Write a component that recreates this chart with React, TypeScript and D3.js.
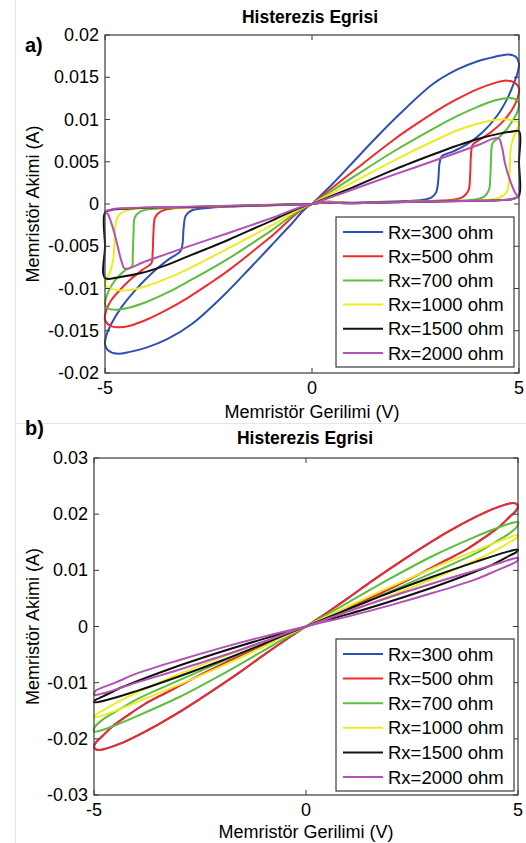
import React from 'react';
import * as d3 from 'd3';

type Pt = [number, number];

const seriesNames = ['Rx=300 ohm', 'Rx=500 ohm', 'Rx=700 ohm', 'Rx=1000 ohm', 'Rx=1500 ohm', 'Rx=2000 ohm'];
const seriesColors = ['#2f4fb8', '#f42a2a', '#5cbf3c', '#ecec26', '#111111', '#b252b4'];

const chartTitle = 'Histerezis Egrisi';
const xLabel = 'Memristör Gerilimi (V)';
const yLabel = 'Memristör Akimi (A)';

const xTicks = [-5, 0, 5];
const yTicksA = [-0.02, -0.015, -0.01, -0.005, 0, 0.005, 0.01, 0.015, 0.02];
const yTicksB = [-0.03, -0.02, -0.01, 0, 0.01, 0.02, 0.03];

// Panel a) — voltage (V), current (mA)
const a300: Pt[] = [
  [0, 0], [0.5, 2.4], [1, 5.0], [1.5, 7.6], [2.13, 10.7], [2.92, 14.2], [3.5, 15.9], [4, 16.9], [4.4, 17.4], [4.75, 17.7], [4.93, 17.4], [5, 16.6],
  [4.97, 15.6], [4.9, 14.6], [4.72, 12.5], [4.48, 10.5], [4.12, 8.5], [3.72, 7.0], [3.35, 6.1], [3.14, 5.7],
  [3.08, 4.8], [3.05, 2.8], [3.0, 1.4], [2.88, 0.75], [2.6, 0.45], [2, 0.3], [1, 0.15], [0, 0],
  [-0.5, -2.4], [-1, -5.0], [-1.5, -7.6], [-2.13, -10.8], [-2.9, -14.2], [-3.5, -16.0], [-4, -17.0], [-4.4, -17.5], [-4.72, -17.7], [-4.93, -17.3], [-5, -16.6],
  [-4.97, -15.6], [-4.85, -14.2], [-4.6, -12.2], [-4.25, -10.1], [-3.85, -8.1], [-3.45, -6.5], [-3.18, -5.6],
  [-3.13, -4.8], [-3.1, -2.8], [-3.05, -1.4], [-2.92, -0.8], [-2.6, -0.5], [-2, -0.3], [-1, -0.15], [0, 0],
];
const a500: Pt[] = [
  [0, 0], [1, 3.9], [2, 7.7], [2.5, 9.4], [3, 11.0], [3.5, 12.4], [4, 13.6], [4.4, 14.3], [4.65, 14.6], [4.88, 14.4], [5, 13.7],
  [4.97, 12.6], [4.85, 11.3], [4.62, 9.8], [4.32, 8.5], [4.05, 7.6], [3.88, 7.0],
  [3.84, 5.8], [3.82, 3.5], [3.78, 1.6], [3.65, 0.85], [3.4, 0.5], [3, 0.38], [2, 0.25], [1, 0.12], [0, 0],
  [-1, -3.9], [-2, -7.8], [-2.5, -9.5], [-3, -11.1], [-3.5, -12.5], [-4, -13.7], [-4.4, -14.4], [-4.65, -14.6], [-4.88, -14.4], [-5, -13.7],
  [-4.97, -12.6], [-4.85, -11.4], [-4.7, -10.5], [-4.4, -9.0], [-4.1, -7.8], [-3.88, -7.0],
  [-3.85, -5.8], [-3.83, -3.5], [-3.79, -1.6], [-3.66, -0.9], [-3.4, -0.55], [-3, -0.42], [-2, -0.28], [-1, -0.14], [0, 0],
];
const a700: Pt[] = [
  [0, 0], [1, 3.2], [2, 6.3], [3, 9.1], [3.5, 10.4], [4, 11.5], [4.45, 12.3], [4.78, 12.55], [4.95, 12.3], [5, 11.8],
  [4.96, 10.9], [4.85, 9.9], [4.68, 8.7], [4.5, 7.8], [4.36, 7.2],
  [4.33, 6.0], [4.31, 3.5], [4.27, 1.6], [4.15, 0.85], [3.9, 0.5], [3.5, 0.4], [3, 0.33], [2, 0.22], [1, 0.1], [0, 0],
  [-1, -3.2], [-2, -6.4], [-3, -9.2], [-3.5, -10.5], [-4, -11.6], [-4.45, -12.3], [-4.78, -12.5], [-4.95, -12.3], [-5, -11.8],
  [-4.96, -10.9], [-4.85, -9.7], [-4.68, -8.6], [-4.5, -7.8], [-4.35, -7.4],
  [-4.33, -6.0], [-4.31, -3.5], [-4.28, -1.6], [-4.15, -0.9], [-3.9, -0.6], [-3.5, -0.47], [-3, -0.38], [-2, -0.25], [-1, -0.12], [0, 0],
];
const a1000: Pt[] = [
  [0, 0], [1, 2.6], [2, 5.2], [3, 7.6], [3.5, 8.7], [4, 9.5], [4.5, 10.0], [4.8, 9.95], [5, 9.6],
  [4.95, 8.8], [4.86, 7.8], [4.8, 6.5], [4.78, 4.5], [4.76, 2.6], [4.7, 1.4], [4.55, 0.8], [4.3, 0.5], [4, 0.42], [3, 0.32], [2, 0.22], [1, 0.1], [0, 0],
  [-1, -2.6], [-2, -5.2], [-3, -7.7], [-3.5, -8.8], [-4, -9.7], [-4.45, -10.2], [-4.8, -10.1], [-5, -9.6],
  [-4.95, -8.8], [-4.86, -7.8], [-4.8, -6.5], [-4.77, -4.5], [-4.75, -2.6], [-4.68, -1.4], [-4.52, -0.85], [-4.3, -0.6], [-4, -0.5], [-3, -0.38], [-2, -0.25], [-1, -0.12], [0, 0],
];
const a1500: Pt[] = [
  [0, 0], [1, 2.0], [2, 4.1], [3, 6.0], [3.5, 6.9], [4, 7.7], [4.5, 8.3], [4.8, 8.55], [5, 8.6],
  [5, 5.0], [5, 1.0], [4.85, 0.6], [4.5, 0.45], [4, 0.38], [3, 0.3], [2, 0.2], [1, 0.1], [0, 0],
  [-0.94, -1.9], [-2, -4.2], [-2.54, -5.3], [-3, -6.2], [-3.5, -7.2], [-4.15, -8.2], [-4.6, -8.6], [-5, -8.75],
  [-5, -5.0], [-5, -1.0], [-4.85, -0.7], [-4.5, -0.55], [-4, -0.45], [-3, -0.35], [-2, -0.25], [-1, -0.12], [0, 0],
];
const a2000: Pt[] = [
  [0, 0], [1, 1.75], [2, 3.5], [3, 5.2], [4, 6.95], [4.5, 7.8],
  [4.59, 6.7], [4.66, 4.85], [4.78, 2.85], [4.9, 1.4], [4.96, 1.0], [5, 0.9],
  [4.8, 0.55], [4.5, 0.45], [4, 0.38], [3, 0.3], [2, 0.2], [1, 0.1], [0, 0],
  [-1, -1.7], [-2, -3.4], [-3, -5.05], [-4, -6.75], [-4.52, -7.65],
  [-4.6, -6.8], [-4.69, -5.1], [-4.77, -3.5], [-4.85, -2.2], [-4.93, -1.2], [-5, -0.9],
  [-4.8, -0.6], [-4.5, -0.5], [-4, -0.42], [-3, -0.33], [-2, -0.22], [-1, -0.1], [0, 0],
];

// Panel b) — voltage (V), current (mA)
const b500: Pt[] = [
  [0, 0], [0.5, 2.5], [1, 5.1], [1.5, 7.8], [2, 10.4], [2.5, 12.9], [3, 15.3], [3.5, 17.5], [4, 19.5], [4.4, 20.9], [4.7, 21.7], [4.88, 22.0], [4.97, 21.8], [5, 21.3],
  [4.95, 20.6], [4.8, 19.5], [4.58, 17.9], [4.2, 15.8], [3.8, 13.8], [3.3, 11.8], [2.8, 9.8], [2.3, 7.9], [1.8, 6.1], [1.3, 4.3], [0.8, 2.6], [0.4, 1.3], [0, 0],
  [-0.5, -2.5], [-1, -5.1], [-1.5, -7.8], [-2, -10.4], [-2.5, -12.9], [-3, -15.3], [-3.5, -17.5], [-4, -19.5], [-4.4, -20.9], [-4.7, -21.7], [-4.88, -22.0], [-4.97, -21.8], [-5, -21.3],
  [-4.95, -20.6], [-4.8, -19.5], [-4.58, -17.9], [-4.2, -15.8], [-3.8, -13.8], [-3.3, -11.8], [-2.8, -9.8], [-2.3, -7.9], [-1.8, -6.1], [-1.3, -4.3], [-0.8, -2.6], [-0.4, -1.3], [0, 0],
];
const b300: Pt[] = b500;
const b700: Pt[] = [
  [0, 0], [1, 4.3], [2, 8.6], [3, 12.6], [4, 16.0], [4.6, 17.8], [4.9, 18.5], [5, 18.6],
  [4.97, 17.7], [4.8, 16.6], [4.5, 15.2], [4, 13.0], [3, 9.6], [2, 6.3], [1, 3.1], [0, 0],
  [-1, -4.3], [-2, -8.6], [-3, -12.6], [-4, -16.0], [-4.6, -17.9], [-4.88, -18.6], [-5, -18.7],
  [-4.97, -17.8], [-4.8, -16.6], [-4.5, -15.2], [-4, -13.0], [-3, -9.6], [-2, -6.3], [-1, -3.1], [0, 0],
];
const b1000: Pt[] = [
  [0, 0], [1, 3.6], [2, 7.1], [3, 10.4], [4, 13.5], [4.7, 15.6], [5, 16.3],
  [4.97, 15.8], [4.8, 15.0], [4.4, 13.3], [4, 11.8], [3, 8.5], [2, 5.5], [1, 2.7], [0, 0],
  [-1, -3.6], [-2, -7.1], [-3, -10.4], [-4, -13.5], [-4.7, -15.6], [-5, -16.2],
  [-4.97, -15.8], [-4.8, -15.0], [-4.4, -13.3], [-4, -11.8], [-3, -8.5], [-2, -5.5], [-1, -2.7], [0, 0],
];
const b1500: Pt[] = [
  [0, 0], [1, 3.1], [2, 6.1], [3, 8.9], [4, 11.5], [4.7, 13.2], [5, 13.7],
  [4.97, 13.3], [4.8, 12.6], [4.4, 11.0], [4, 9.8], [3, 7.0], [2, 4.5], [1, 2.2], [0, 0],
  [-1, -3.1], [-2, -6.1], [-3, -8.9], [-4, -11.5], [-4.7, -13.1], [-5, -13.5],
  [-4.97, -13.1], [-4.8, -12.5], [-4.4, -11.0], [-4, -9.8], [-3, -7.0], [-2, -4.5], [-1, -2.2], [0, 0],
];
const b2000: Pt[] = [
  [0, 0], [1, 2.7], [2, 5.3], [3, 7.7], [4, 10.0], [4.6, 11.4], [4.9, 12.1], [5, 12.2],
  [4.97, 11.6], [4.85, 11.1], [4.5, 10.0], [4, 8.4], [3, 6.0], [2, 3.8], [1, 1.8], [0, 0],
  [-1, -2.7], [-2, -5.3], [-3, -7.7], [-4, -10.0], [-4.6, -11.5], [-4.9, -12.1], [-5, -12.2],
  [-4.97, -11.5], [-4.85, -11.0], [-4.5, -10.0], [-4, -8.4], [-3, -6.0], [-2, -3.8], [-1, -1.8], [0, 0],
];

const panelAData = [a300, a500, a700, a1000, a1500, a2000];
const panelBData = [b300, b500, b700, b1000, b1500, b2000];

const FONT = '"Liberation Sans", Arial, sans-serif';

type PanelProps = {
  left: number; right: number; top: number; bottom: number;
  yDomain: [number, number]; yTicks: number[]; data: Pt[][];
  tag: string; tagY: number; titleX: number; titleY: number; xLabelY: number;
  legTop: number; legBottom: number; legRow0: number; legStep: number;
};

function Panel(p: PanelProps) {
  const x = d3.scaleLinear().domain([-5, 5]).range([p.left, p.right]);
  const y = d3.scaleLinear().domain(p.yDomain).range([p.bottom, p.top]);
  const line = d3.line<Pt>()
    .x((d) => x(d[0]))
    .y((d) => y(d[1] / 1000))
    .curve(d3.curveCatmullRom.alpha(0.5));
  const axisColor = '#3a3a3a';
  const tl = 5;
  const legLeft = 336, legRight = 514;
  return (
    <g>
      <text x={25} y={p.tagY} fontFamily={FONT} fontWeight="bold" fontSize={20} dominantBaseline="central">{p.tag}</text>
      <text x={p.titleX} y={p.titleY} fontFamily={FONT} fontWeight="bold" fontSize={17.5} textAnchor="middle" dominantBaseline="central">{chartTitle}</text>
      {p.data.map((d, i) => (
        <path key={i} d={line(d) || ''} fill="none" stroke={seriesColors[i]} strokeWidth={2} strokeLinejoin="round" />
      ))}
      <rect x={p.left} y={p.top} width={p.right - p.left} height={p.bottom - p.top} fill="none" stroke={axisColor} strokeWidth={1.2} />
      {p.yTicks.map((t) => (
        <g key={'y' + t}>
          <line x1={p.left} x2={p.left + tl} y1={y(t)} y2={y(t)} stroke={axisColor} strokeWidth={1} />
          <line x1={p.right - tl} x2={p.right} y1={y(t)} y2={y(t)} stroke={axisColor} strokeWidth={1} />
          <text x={p.left - 6} y={y(t)} fontFamily={FONT} fontSize={18} textAnchor="end" dominantBaseline="central">{String(t)}</text>
        </g>
      ))}
      {xTicks.map((t) => (
        <g key={'x' + t}>
          <line x1={x(t)} x2={x(t)} y1={p.bottom} y2={p.bottom - tl} stroke={axisColor} strokeWidth={1} />
          <line x1={x(t)} x2={x(t)} y1={p.top} y2={p.top + tl} stroke={axisColor} strokeWidth={1} />
          <text x={x(t)} y={p.bottom + 15} fontFamily={FONT} fontSize={18} textAnchor="middle" dominantBaseline="central">{String(t)}</text>
        </g>
      ))}
      <text x={(p.left + p.right) / 2} y={p.xLabelY} fontFamily={FONT} fontSize={18} textAnchor="middle" dominantBaseline="central">{xLabel}</text>
      <text transform={`translate(33,${(p.top + p.bottom) / 2}) rotate(-90)`} fontFamily={FONT} fontSize={18} textAnchor="middle" dominantBaseline="central">{yLabel}</text>
      <rect x={legLeft} y={p.legTop} width={legRight - legLeft} height={p.legBottom - p.legTop} fill="#ffffff" stroke={axisColor} strokeWidth={1.2} />
      {seriesNames.map((n, i) => {
        const ry = p.legRow0 + i * p.legStep;
        return (
          <g key={n}>
            <line x1={343} x2={383} y1={ry} y2={ry} stroke={seriesColors[i]} strokeWidth={2} />
            <text x={388} y={ry} fontFamily={FONT} fontSize={18.5} dominantBaseline="central">{n}</text>
          </g>
        );
      })}
    </g>
  );
}

export default function App() {
  return (
    <svg width={526} height={843} style={{ position: 'absolute', left: 0, top: 0, background: '#ffffff' }}>
      <rect x={0} y={0} width={526} height={843} fill="#ffffff" />
      <line x1={15.5} x2={15.5} y1={0} y2={843} stroke="#e6e6e6" strokeWidth={1} />
      <line x1={15} x2={526} y1={423.5} y2={423.5} stroke="#e6e6e6" strokeWidth={1} />
      <Panel left={105} right={519} top={35} bottom={373} yDomain={[-0.02, 0.02]} yTicks={yTicksA} data={panelAData}
        tag="a)" tagY={45} titleX={310} titleY={17} xLabelY={412}
        legTop={217} legBottom={367} legRow0={232} legStep={24.2} />
      <Panel left={94} right={518} top={458} bottom={795} yDomain={[-0.03, 0.03]} yTicks={yTicksB} data={panelBData}
        tag="b)" tagY={428} titleX={305} titleY={438} xLabelY={832}
        legTop={639} legBottom={791} legRow0={654} legStep={24.6} />
    </svg>
  );
}
